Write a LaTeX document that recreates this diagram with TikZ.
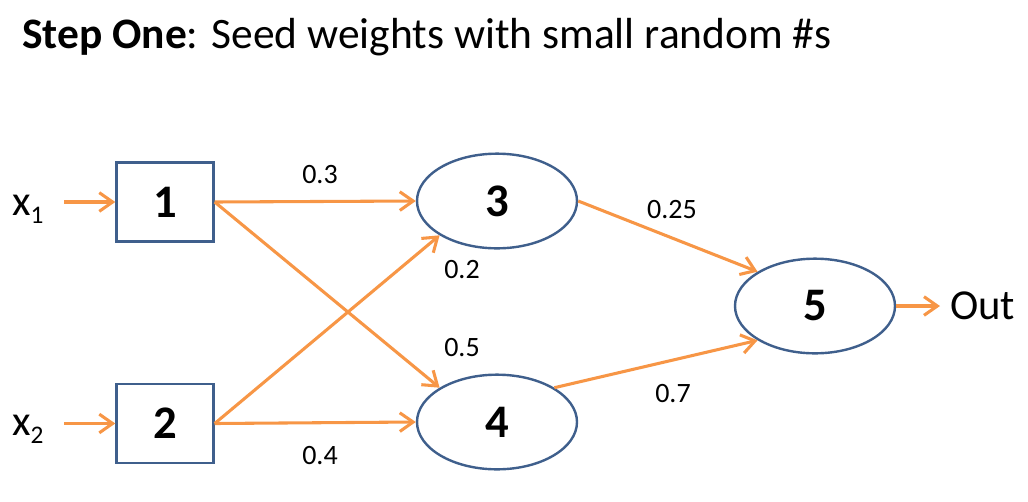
\documentclass[tikz,border=0pt]{standalone}
\usepackage{fontspec}
\setmainfont{Carlito}
\usetikzlibrary{shapes.geometric,arrows.meta}
\definecolor{orng}{HTML}{F79646}
\definecolor{bord}{HTML}{3F5F8C}
\begin{document}
\begin{tikzpicture}[x=0.75pt,y=-0.75pt,
 unit/.style={draw=bord,line width=1.8pt,fill=white,inner sep=0pt,font=\fontsize{35}{42}\selectfont\bfseries},
 boxnode/.style={unit,rectangle,minimum width=72.75pt,minimum height=59.25pt},
 ellnode/.style={unit,ellipse,minimum width=120pt,minimum height=71pt},
 conn/.style={draw=orng,line width=2.3pt,-{Straight Barb[length=10pt,width=14pt]}},
 wlabel/.style={font=\fontsize{21}{25}\selectfont,inner sep=0pt},
 iolabel/.style={font=\fontsize{32}{38}\selectfont,inner sep=0pt}]
\useasboundingbox (0,0) rectangle (1028,501);
\node[anchor=base west,font=\fontsize{32.6}{38}\selectfont,inner sep=0pt] (title) at (22,48) {\textbf{Step One}: Seed weights with small random \#s};

\node[boxnode] (n1) at (165,202) {1};
\node[boxnode] (n2) at (165,423.5) {2};
\node[ellnode] (n3) at (497,201) {3};
\node[ellnode] (n4) at (497,422) {4};
\node[ellnode] (n5) at (815,306) {5};

\node[iolabel,anchor=base west] (x1) at (12,215) {x\raisebox{-6pt}{\fontsize{19}{22}\selectfont 1}};
\node[iolabel,anchor=base west] (x2) at (12,435) {x\raisebox{-6pt}{\fontsize{19}{22}\selectfont 2}};
\node[iolabel,anchor=west] (out) at (950,306) {Out};

\coordinate (x1e) at (64,202);
\coordinate (x2e) at (64,423.5);
\coordinate (oute) at (940,306);

\draw[conn] (x1e) -- (n1.west);
\draw[conn] (x2e) -- (n2.west);
\draw[conn] (n1.east) -- (n3.west);
\draw[conn] (n1.east) -- (n4.north west);
\draw[conn] (n2.east) -- (n3.south west);
\draw[conn] (n2.east) -- (n4.west);
\draw[conn] (n3.east) -- (n5.north west);
\draw[conn] (n4.north east) -- (n5.south west);
\draw[conn] (n5.east) -- (oute);

\node[wlabel] (w13) at (320,175) {0.3};
\node[wlabel] (w23) at (462,270) {0.2};
\node[wlabel] (w14) at (462,348) {0.5};
\node[wlabel] (w24) at (320,456) {0.4};
\node[wlabel] (w35) at (672,210) {0.25};
\node[wlabel] (w45) at (673,394) {0.7};
\end{tikzpicture}
\end{document}
